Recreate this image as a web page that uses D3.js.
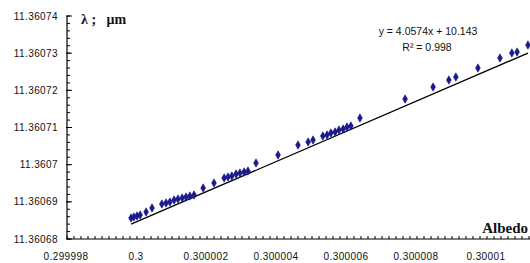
<!DOCTYPE html>
<html>
<head>
<meta charset="utf-8">
<script src="https://cdn.jsdelivr.net/npm/d3@7"></script>
<style>
  body { margin: 0; background: #fff; }
  svg { display: block; }
  .tick-label { font-family: "Liberation Sans", Arial, sans-serif; font-size: 10px; fill: #111; letter-spacing: 0.4px; }
</style>
</head>
<body>
<svg id="chart" width="530" height="263"></svg>
<script>
// Albedo vs wavelength (lambda, um)
const albedo = [
  0.29999983, 0.29999991, 0.30000000, 0.30000009, 0.30000026, 0.30000043,
  0.30000071, 0.30000083, 0.30000094, 0.30000106, 0.30000117, 0.30000129,
  0.30000140, 0.30000151, 0.30000163, 0.30000189, 0.30000220, 0.30000249,
  0.30000260, 0.30000271, 0.30000283, 0.30000294, 0.30000306, 0.30000317,
  0.30000340, 0.30000403, 0.30000460, 0.30000489, 0.30000503, 0.30000531,
  0.30000543, 0.30000554, 0.30000566, 0.30000577, 0.30000589, 0.30000600,
  0.30000611, 0.30000637, 0.30000766, 0.30000846, 0.30000891, 0.30000911,
  0.30000974, 0.30001037, 0.30001071, 0.30001086, 0.30001117
];
const lambda = [
  11.36068565, 11.36068592, 11.36068619, 11.36068646, 11.36068726, 11.36068834,
  11.36068942, 11.36068969, 11.36068995, 11.36069049, 11.36069076, 11.36069103,
  11.36069130, 11.36069157, 11.36069184, 11.36069372, 11.36069507, 11.36069641,
  11.36069668, 11.36069695, 11.36069749, 11.36069776, 11.36069803, 11.36069829,
  11.36070045, 11.36070260, 11.36070529, 11.36070610, 11.36070663, 11.36070771,
  11.36070798, 11.36070852, 11.36070879, 11.36070932, 11.36070959, 11.36071013,
  11.36071040, 11.36071255, 11.36071766, 11.36072089, 11.36072278, 11.36072358,
  11.36072600, 11.36072870, 11.36073004, 11.36073031, 11.36073219
];

// trendline (slope from label, intercept)
const slope = 4.0574;
const intercept = 10.1434647;
const eqText = "y = 4.0574x + 10.143";
const r2Text = "R\u00b2 = 0.998";

const xTicks = [0.299998, 0.3, 0.300002, 0.300004, 0.300006, 0.300008, 0.30001];
const xTickLabels = ["0.299998", "0.3", "0.300002", "0.300004", "0.300006", "0.300008", "0.30001"];
const yTicks = [11.36068, 11.36069, 11.3607, 11.36071, 11.36072, 11.36073, 11.36074];
const yTickLabels = ["11.36068", "11.36069", "11.3607", "11.36071", "11.36072", "11.36073", "11.36074"];

const svg = d3.select("#chart");

const x = d3.scaleLinear().domain([0.299998, 0.300012]).range([67, 557]);
const y = d3.scaleLinear().domain([11.36068, 11.36074]).range([239, 16]);

const x0 = 67, y0 = 239;

// axes lines
svg.append("line").attr("x1", x0).attr("x2", 530).attr("y1", y0).attr("y2", y0)
    .attr("stroke", "#000").attr("stroke-width", 1.2);
svg.append("line").attr("x1", x0).attr("x2", x0).attr("y1", y(11.36074)).attr("y2", y0)
    .attr("stroke", "#000").attr("stroke-width", 1.2);

// minor ticks
const xMinor = d3.range(0, 80).map(i => 0.299998 + i * 2e-7).filter(v => x(v) <= 530);
svg.selectAll(".xminor").data(xMinor).enter().append("line")
    .attr("x1", d => x(d)).attr("x2", d => x(d))
    .attr("y1", y0).attr("y2", y0 - 3)
    .attr("stroke", "#000").attr("stroke-width", 1);

const yMinor = d3.range(0, 31).map(i => 11.36068 + i * 2e-6);
svg.selectAll(".yminor").data(yMinor).enter().append("line")
    .attr("x1", x0).attr("x2", x0 + 3)
    .attr("y1", d => y(d)).attr("y2", d => y(d))
    .attr("stroke", "#000").attr("stroke-width", 1);

// major ticks
svg.selectAll(".ymajor").data(yTicks).enter().append("line")
    .attr("x1", x0 - 1).attr("x2", x0 + 5)
    .attr("y1", d => y(d)).attr("y2", d => y(d))
    .attr("stroke", "#000").attr("stroke-width", 1);

// tick labels
svg.selectAll(".xlab").data(xTicks).enter().append("text")
    .attr("class", "tick-label")
    .attr("x", (d, i) => x(d) - 1)
    .attr("y", 260)
    .attr("text-anchor", "middle")
    .text((d, i) => xTickLabels[i]);

svg.selectAll(".ylab").data(yTicks).enter().append("text")
    .attr("class", "tick-label")
    .attr("x", 58)
    .attr("y", d => y(d) + 3.5)
    .attr("text-anchor", "end")
    .text((d, i) => yTickLabels[i]);

// trendline across the data range
const xExt = d3.extent(albedo);
svg.append("line")
    .attr("x1", x(xExt[0])).attr("y1", y(slope * xExt[0] + intercept))
    .attr("x2", x(xExt[1])).attr("y2", y(slope * xExt[1] + intercept))
    .attr("stroke", "#000").attr("stroke-width", 1.3);

// data points (diamonds)
const pts = albedo.map((a, i) => ({a: a, l: lambda[i]}));
svg.selectAll(".pt").data(pts).enter().append("path")
    .attr("class", "pt")
    .attr("d", d3.symbol().type(d3.symbolDiamond).size(20))
    .attr("transform", d => `translate(${x(d.a)},${y(d.l)})`)
    .attr("fill", "#1a1a8c")
    .attr("stroke", "#1a1a8c")
    .attr("stroke-width", 0.6);

// equation + R^2
svg.append("text")
    .attr("x", 428).attr("y", 35)
    .attr("text-anchor", "middle")
    .attr("font-family", "Liberation Sans, Arial, sans-serif")
    .attr("font-size", "10.5px")
    .attr("fill", "#111")
    .text(eqText);
svg.append("text")
    .attr("x", 427).attr("y", 51)
    .attr("text-anchor", "middle")
    .attr("font-family", "Liberation Sans, Arial, sans-serif")
    .attr("font-size", "10.5px")
    .attr("fill", "#111")
    .text(r2Text);

// axis titles
svg.append("text")
    .attr("x", 81).attr("y", 24)
    .attr("font-family", "Liberation Serif, Times New Roman, serif")
    .attr("font-weight", "bold")
    .attr("font-size", "14px")
    .attr("fill", "#111")
    .attr("xml:space", "preserve")
    .text("\u03bb ;   \u03bcm");

svg.append("text")
    .attr("x", 528).attr("y", 233)
    .attr("text-anchor", "end")
    .attr("font-family", "Liberation Serif, Times New Roman, serif")
    .attr("font-weight", "bold")
    .attr("font-size", "15px")
    .attr("fill", "#111")
    .text("Albedo");
</script>
</body>
</html>
